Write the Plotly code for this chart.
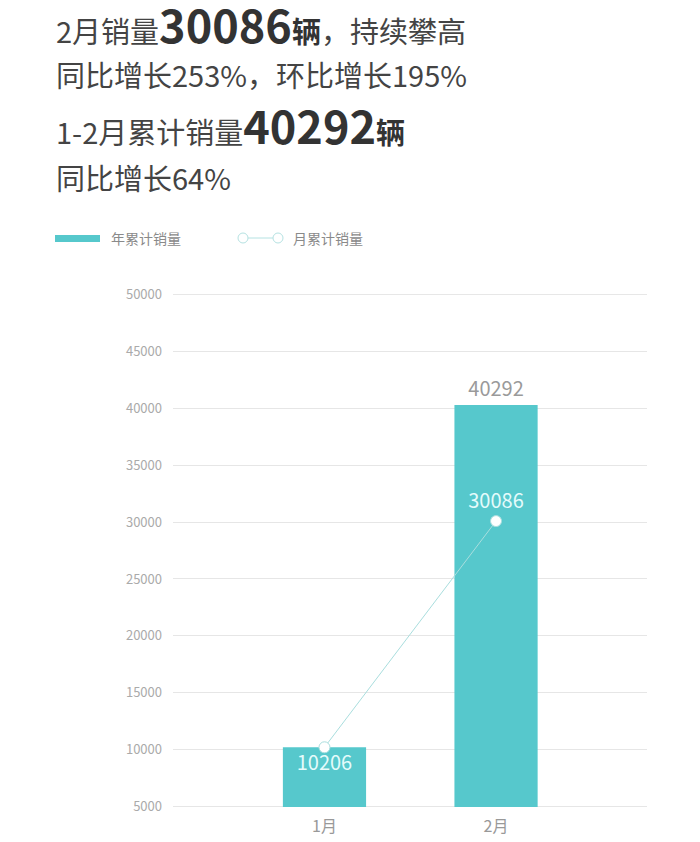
import plotly.graph_objects as go

# data
months = ["1月", "2月"]
ytd_sales = [10206, 40292]      # 年累计销量 (bars)
month_sales = [10206, 30086]    # 月累计销量 (line)
ytd_labels = ["", "40292"]
y_ticks = [5000, 10000, 15000, 20000, 25000, 30000, 35000, 40000, 45000, 50000]

# the page body has an 8px margin, so the figure is a bit smaller than the window
OFF = 8
W, H = 700 - OFF, 842 - OFF
L, T = 173 - OFF, 294 - OFF
R, B = W - (647 - OFF), H - (807 - OFF)
PW, PH = W - L - R, H - T - B

TEAL = "#56c8cc"
GRID = "#e6e6e6"
FONT = "Noto Sans CJK SC"


def xp(px):
    # screen pixel -> paper fraction
    return (px - OFF - L) / PW


def yp(py):
    return (H - B - (py - OFF)) / PH


fig = go.Figure()

fig.add_trace(go.Bar(
    x=months, y=ytd_sales, width=0.485,
    marker=dict(color=TEAL, line=dict(width=0)),
    text=ytd_labels, textposition=["none", "outside"],
    textfont=dict(color="#9a9a9a", size=20, family=FONT),
    cliponaxis=False, name="年累计销量",
))

fig.add_trace(go.Scatter(
    x=months, y=month_sales, mode="lines+markers+text",
    line=dict(color="#a9dede", width=1),
    marker=dict(color="white", size=11, line=dict(color="#a9dede", width=1)),
    text=[str(v) for v in month_sales],
    textposition=["bottom center", "top center"],
    textfont=dict(color="#e4fbfb", size=20, family=FONT),
    cliponaxis=False, name="月累计销量",
))

# headline text
title_lines = [
    (23, "2月销量<b><span style='font-size:45px;color:#333'>30086</span><span style='color:#333'>辆</span></b>，持续攀高"),
    (74, "同比增长253%，环比增长195%"),
    (125, "1-2月累计销量<b><span style='font-size:45px;color:#333'>40292</span><span style='color:#333'>辆</span></b>"),
    (177, "同比增长64%"),
]
annotations = []
for py, txt in title_lines:
    annotations.append(dict(
        x=xp(54), y=yp(py), xref="paper", yref="paper",
        xanchor="left", yanchor="middle", showarrow=False,
        text=txt, font=dict(size=29, color="#444444", family=FONT),
    ))

# legend, drawn by hand
annotations.append(dict(x=xp(109), y=yp(238), xref="paper", yref="paper",
                        xanchor="left", yanchor="middle", showarrow=False,
                        text="年累计销量", font=dict(size=14, color="#8a8a8a", family=FONT)))
annotations.append(dict(x=xp(291), y=yp(238), xref="paper", yref="paper",
                        xanchor="left", yanchor="middle", showarrow=False,
                        text="月累计销量", font=dict(size=14, color="#8a8a8a", family=FONT)))

shapes = [
    dict(type="rect", xref="paper", yref="paper",
         x0=xp(55), x1=xp(100), y0=yp(242), y1=yp(235),
         fillcolor=TEAL, line=dict(width=0)),
    dict(type="line", xref="paper", yref="paper",
         x0=xp(248), x1=xp(273), y0=yp(238), y1=yp(238),
         line=dict(color="#b5e2e2", width=1)),
    dict(type="circle", xref="paper", yref="paper",
         x0=xp(238), x1=xp(248), y0=yp(243), y1=yp(233),
         fillcolor="white", line=dict(color="#b5e2e2", width=1)),
    dict(type="circle", xref="paper", yref="paper",
         x0=xp(273), x1=xp(283), y0=yp(243), y1=yp(233),
         fillcolor="white", line=dict(color="#b5e2e2", width=1)),
]
# plotly drops gridlines sitting on the plot edges, so draw those two by hand
for v in (y_ticks[0], y_ticks[-1]):
    shapes.append(dict(type="line", xref="paper", yref="y", x0=0, x1=1, y0=v, y1=v,
                       line=dict(color=GRID, width=1), layer="below"))

fig.update_layout(
    width=W, height=H,
    margin=dict(l=L, r=R, t=T, b=B, autoexpand=False),
    paper_bgcolor="white", plot_bgcolor="white",
    showlegend=False,
    annotations=annotations, shapes=shapes,
    font=dict(family=FONT),
)
fig.update_xaxes(
    type="category", range=[-0.883, 1.88],
    showgrid=False, zeroline=False, showline=False, ticks="",
    tickfont=dict(size=16, color="#999999", family=FONT),
    ticklabelstandoff=8,
)
fig.update_yaxes(
    range=[4960, 50040], tickvals=y_ticks, tickformat="d",
    showgrid=True, gridcolor=GRID, gridwidth=1,
    zeroline=False, showline=False, ticks="",
    tickfont=dict(size=13, color="#aaaaaa", family=FONT),
    ticklabelstandoff=10,
)

fig.write_html("out.html")
